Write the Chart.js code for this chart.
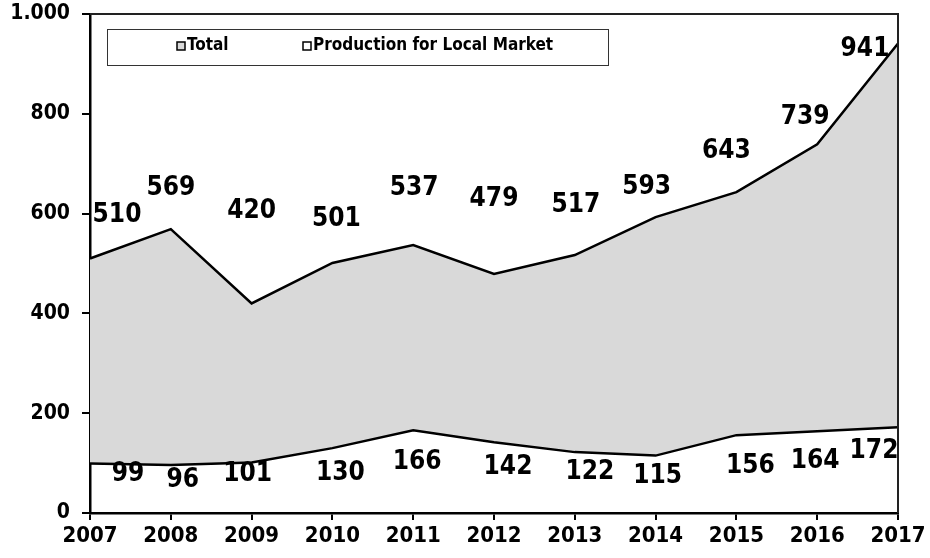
<!DOCTYPE html>
<html>
<head>
<meta charset="utf-8">
<script src="https://cdn.jsdelivr.net/npm/chart.js@4.4.1/dist/chart.umd.min.js"></script>
<style>
  html, body { margin: 0; padding: 0; background: #fff; }
  #wrap { width: 930px; height: 558px; position: relative; }
</style>
</head>
<body>
<div id="wrap"><canvas id="chart"></canvas></div>
<script>
// data
const years = ['2007', '2008', '2009', '2010', '2011', '2012', '2013', '2014', '2015', '2016', '2017'];
const totalValues = [510, 569, 420, 501, 537, 479, 517, 593, 643, 739, 941];
const localValues = [99, 96, 101, 130, 166, 142, 122, 115, 156, 164, 172];
const yTicks = [0, 200, 400, 600, 800, 1000];

// label nudges (pixels from the point), the source chart had them hand placed
const totalLabelShift = [[27, -43], [0, -41], [0, -92], [4, -44], [1, -57], [0, -75], [1, -50], [-9, -30], [-10, -41], [-12, -27], [-33, 6]];
const localLabelShift = [[38, 11], [12, 15], [-4, 12], [8, 25], [4, 32], [14, 25], [15, 20], [2, 21], [14, 31], [-2, 30], [-24, 24]];

const FONT = '"DejaVu Sans Condensed", "DejaVu Sans", sans-serif';

const valueLabels = {
  id: 'valueLabels',
  afterDatasetsDraw(chart) {
    const ctx = chart.ctx;
    ctx.save();
    ctx.font = 'bold 26px ' + FONT;
    ctx.fillStyle = '#000';
    ctx.textAlign = 'center';
    ctx.textBaseline = 'middle';
    [totalLabelShift, localLabelShift].forEach((shift, di) => {
      const meta = chart.getDatasetMeta(di);
      meta.data.forEach((pt, i) => {
        const v = chart.data.datasets[di].data[i];
        ctx.fillText(String(v), pt.x + shift[i][0], pt.y + shift[i][1]);
      });
    });
    ctx.restore();
  }
};

const frameAndLegend = {
  id: 'frameAndLegend',
  afterDraw(chart) {
    const ctx = chart.ctx;
    const a = chart.chartArea;
    ctx.save();
    // top and right border of plot
    ctx.strokeStyle = '#222';
    ctx.lineWidth = 2;
    ctx.beginPath();
    ctx.moveTo(a.left, a.top);
    ctx.lineTo(a.right, a.top);
    ctx.lineTo(a.right, a.bottom);
    ctx.stroke();

    // legend box
    const bx = a.left + 17, by = a.top + 15;
    ctx.fillStyle = '#fff';
    ctx.fillRect(bx, by, 501, 36);
    ctx.strokeStyle = '#333';
    ctx.lineWidth = 1;
    ctx.strokeRect(bx + 0.5, by + 0.5, 501, 36);

    ctx.font = 'bold 17px ' + FONT;
    ctx.textBaseline = 'middle';
    ctx.textAlign = 'left';
    const items = [
      { x: bx + 70, ds: chart.data.datasets[0] },
      { x: bx + 196, ds: chart.data.datasets[1] }
    ];
    items.forEach(it => {
      const cy = by + 17;
      ctx.fillStyle = it.ds.legendColor;
      ctx.fillRect(it.x, cy - 4, 8, 8);
      ctx.strokeStyle = '#000';
      ctx.lineWidth = 1.5;
      ctx.strokeRect(it.x, cy - 4, 8, 8);
      ctx.fillStyle = '#000';
      ctx.fillText(it.ds.label, it.x + 10, cy);
    });
    ctx.restore();
  }
};

new Chart(document.getElementById('chart'), {
  type: 'line',
  data: {
    labels: years,
    datasets: [
      {
        label: 'Total',
        data: totalValues,
        borderColor: '#000',
        borderWidth: 2.5,
        backgroundColor: '#d9d9d9',
        legendColor: '#d9d9d9',
        fill: 1,
        pointRadius: 0,
        tension: 0
      },
      {
        label: 'Production for Local Market',
        data: localValues,
        borderColor: '#000',
        borderWidth: 2.5,
        backgroundColor: '#ffffff',
        legendColor: '#ffffff',
        fill: false,
        pointRadius: 0,
        tension: 0
      }
    ]
  },
  options: {
    responsive: true,
    maintainAspectRatio: false,
    animation: false,
    layout: { padding: { top: 14, right: 32, left: 0, bottom: 0 } },
    plugins: {
      legend: { display: false },
      tooltip: { enabled: false },
      filler: { drawTime: 'beforeDatasetsDraw' }
    },
    scales: {
      x: {
        offset: false,
        afterFit(s) { s.height = 45; },
        grid: { drawOnChartArea: false, drawTicks: true, tickLength: 7, color: '#000', lineWidth: 2 },
        border: { display: true, color: '#000', width: 2.5 },
        ticks: {
          color: '#000',
          font: { family: FONT, size: 22, weight: 'bold' },
          padding: 3,
          maxRotation: 0,
          autoSkip: false
        }
      },
      y: {
        min: 0,
        max: 1000,
        afterFit(s) { s.width = 90; s.paddingTop = 0; s.paddingBottom = 0; },
        afterBuildTicks(s) { s.ticks = yTicks.map(v => ({ value: v })); },
        grid: { drawOnChartArea: false, drawTicks: true, tickLength: 8, color: '#000', lineWidth: 2 },
        border: { display: true, color: '#000', width: 2.5 },
        ticks: {
          color: '#000',
          font: { family: FONT, size: 21, weight: 'bold' },
          padding: 12,
          callback: v => v >= 1000 ? (v / 1000) + '.' + String(v % 1000).padStart(3, '0') : String(v)
        }
      }
    }
  },
  plugins: [valueLabels, frameAndLegend]
});
</script>
</body>
</html>
